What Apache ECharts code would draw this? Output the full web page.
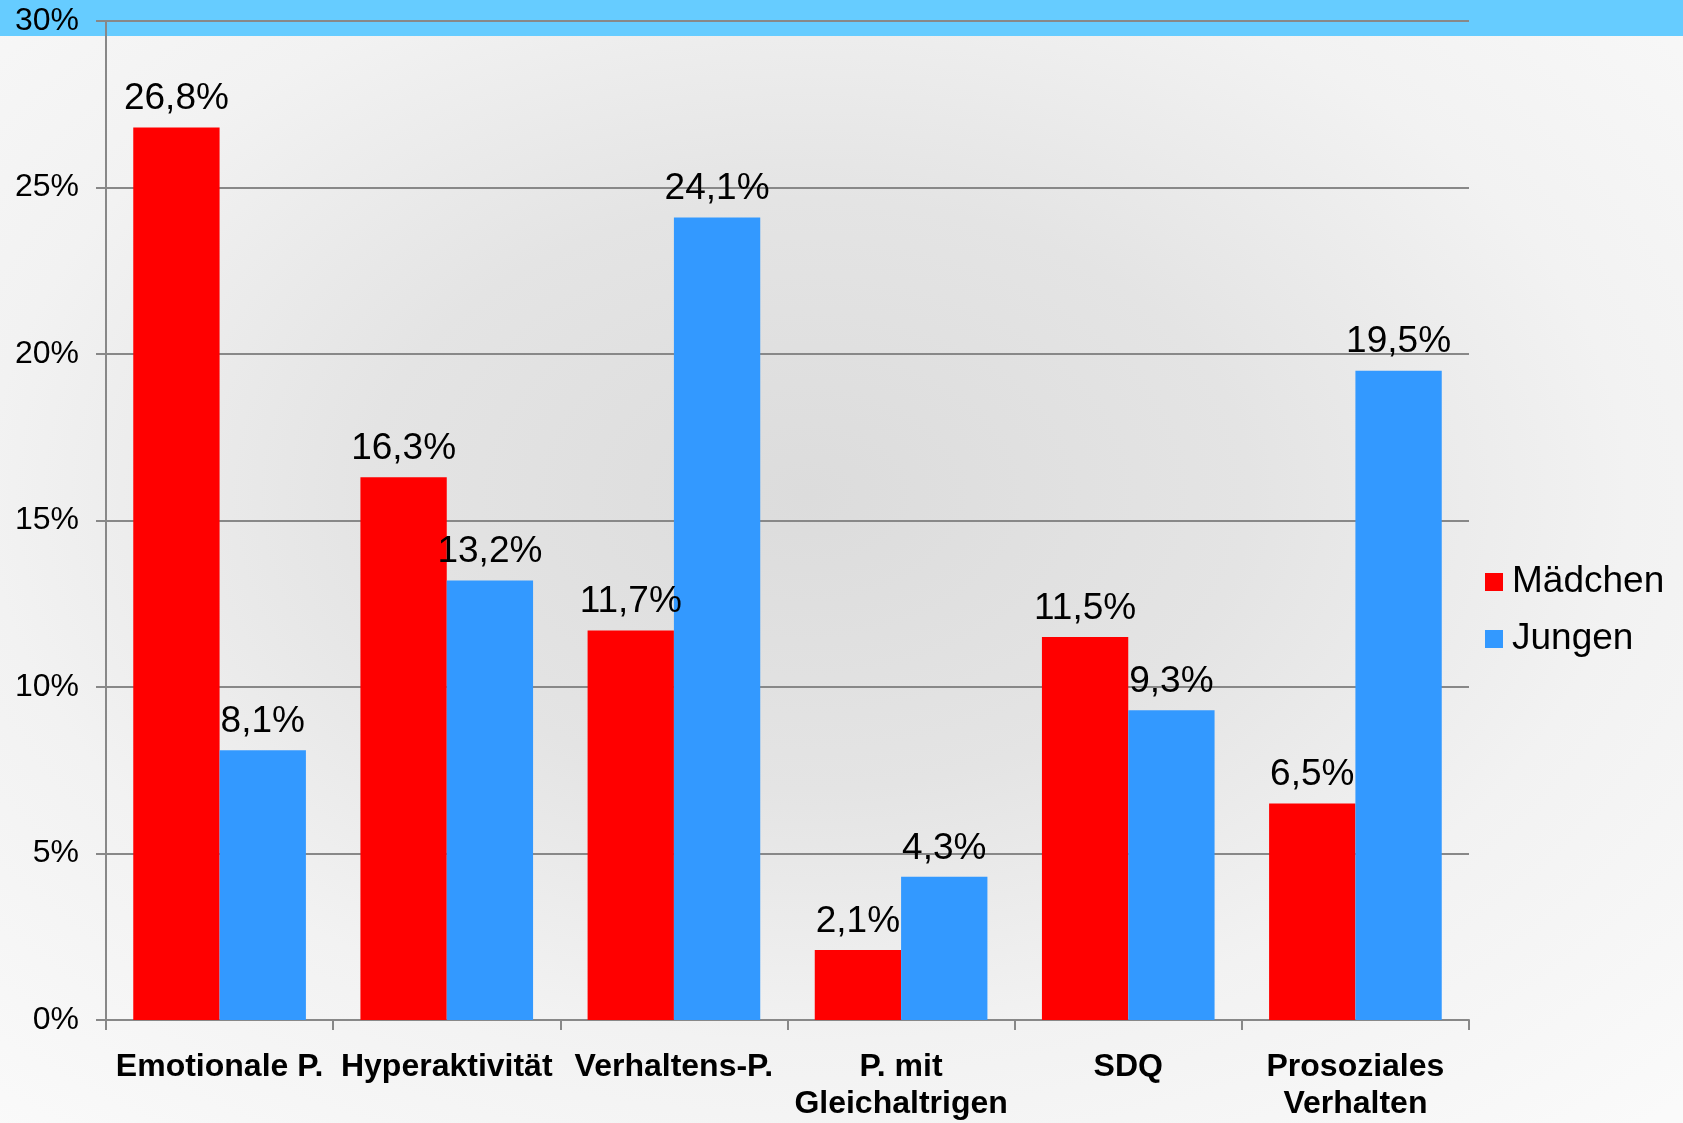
<!DOCTYPE html>
<html>
<head>
<meta charset="utf-8">
<script src="https://cdn.jsdelivr.net/npm/echarts@6/dist/echarts.min.js"></script>
<style>
  html, body { margin: 0; padding: 0; }
  #chart {
    width: 1683px;
    height: 1123px;
    background:
      linear-gradient(#66ccff, #66ccff) top left / 100% 36px no-repeat,
      radial-gradient(ellipse 75% 75% at 48% 44%, #dcdcdc 0%, #e4e4e4 35%, #f2f2f2 65%, #fafafa 100%);
  }
</style>
</head>
<body>
<div id="chart"></div>
<script>
const categories = ['Emotionale P.', 'Hyperaktivität', 'Verhaltens-P.', 'P. mit\nGleichaltrigen', 'SDQ', 'Prosoziales\nVerhalten']
const maedchen = [26.8, 16.3, 11.7, 2.1, 11.5, 6.5]
const jungen = [8.1, 13.2, 24.1, 4.3, 9.3, 19.5]

const font = "'Liberation Sans', Arial, sans-serif"

const barLabel = {
  show: true,
  position: 'top',
  distance: 10,
  color: '#000',
  fontFamily: font,
  fontSize: 37,
  formatter: p => String(p.value).replace('.', ',') + '%'
}

const chart = echarts.init(document.getElementById('chart'))
chart.setOption({
  backgroundColor: 'transparent',
  animation: false,
  grid: { left: 106, right: 214, top: 21, bottom: 103 },
  legend: {
    orient: 'vertical',
    left: 1480,
    top: 557,
    itemWidth: 18,
    itemHeight: 18,
    itemGap: 17,
    icon: 'rect',
    textStyle: { fontFamily: font, fontSize: 37, color: '#000', lineHeight: 40, padding: [0, 0, 0, 4] },
    data: ['Mädchen', 'Jungen']
  },
  xAxis: {
    type: 'category',
    data: categories,
    axisLine: { lineStyle: { color: '#888', width: 2 } },
    axisTick: { show: true, length: 10, lineStyle: { color: '#888', width: 2 } },
    axisLabel: {
      color: '#000',
      fontFamily: font,
      fontSize: 32,
      fontWeight: 'bold',
      lineHeight: 37,
      margin: 29,
      interval: 0
    }
  },
  yAxis: {
    type: 'value',
    min: 0,
    max: 30,
    interval: 5,
    axisLine: { show: true, lineStyle: { color: '#888', width: 2 } },
    axisTick: { show: true, length: 10, lineStyle: { color: '#888', width: 2 } },
    splitLine: { lineStyle: { color: '#888', width: 2 } },
    axisLabel: {
      color: '#000',
      fontFamily: font,
      fontSize: 32,
      margin: 27,
      formatter: '{value}%'
    }
  },
  series: [
    {
      name: 'Mädchen',
      type: 'bar',
      data: maedchen,
      barGap: 0,
      barCategoryGap: '24%',
      itemStyle: { color: '#ff0000' },
      label: barLabel
    },
    {
      name: 'Jungen',
      type: 'bar',
      data: jungen,
      barGap: 0,
      barCategoryGap: '24%',
      itemStyle: { color: '#3399ff' },
      label: barLabel
    }
  ]
})
</script>
</body>
</html>
